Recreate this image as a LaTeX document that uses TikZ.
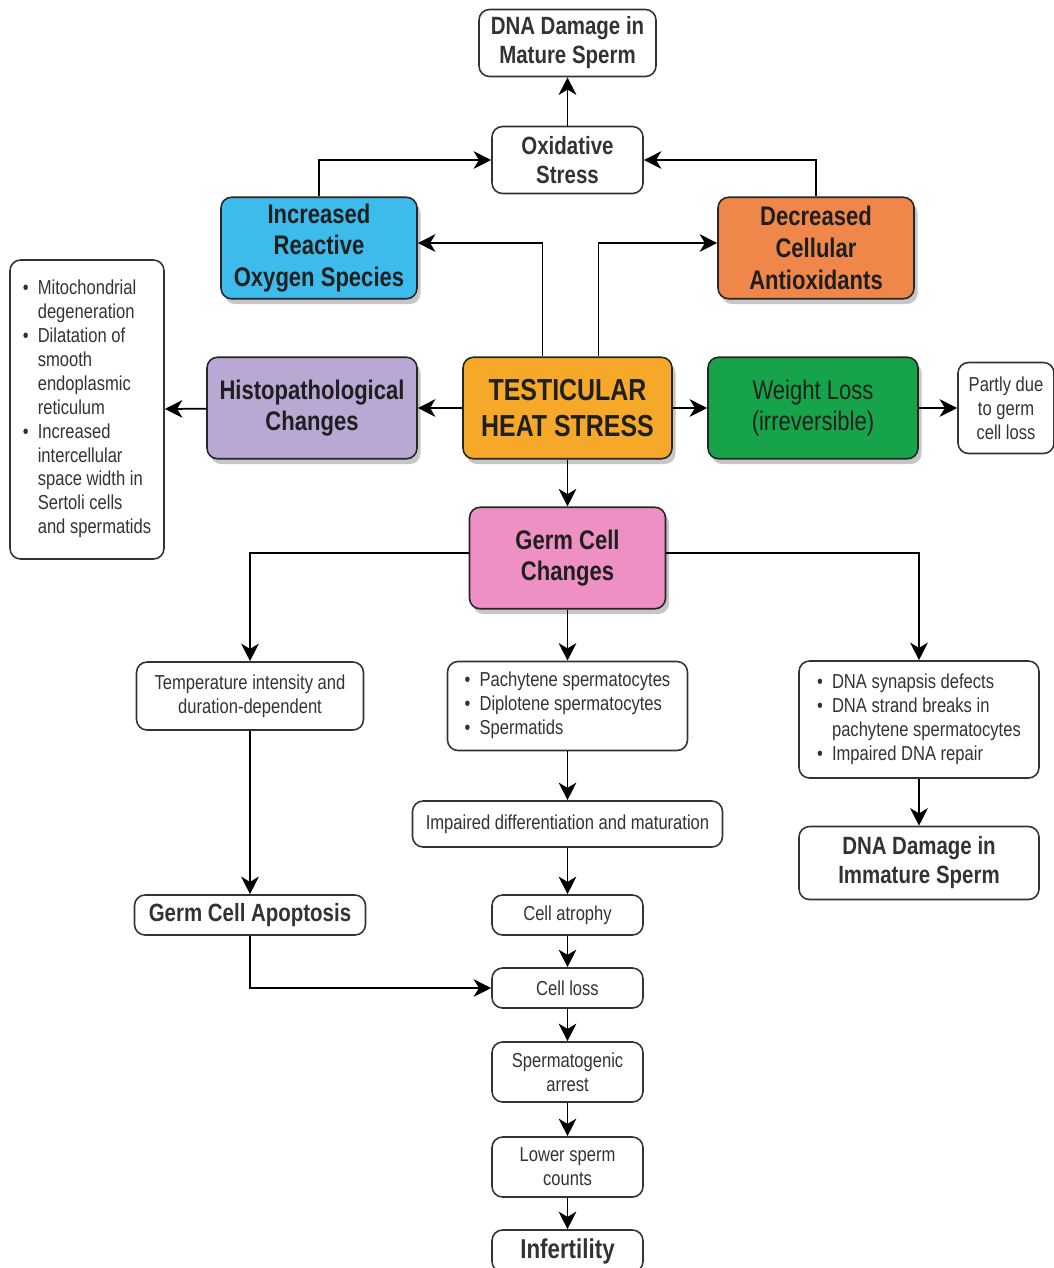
\documentclass[tikz,border=0pt]{standalone}
\usepackage{fontspec}
\setmainfont[FakeStretch=0.82]{Liberation Sans}
\usepackage{tikz}
\usetikzlibrary{shapes,arrows,positioning,arrows.meta,shadows}
\usepackage{xcolor}

\definecolor{rosblue}{HTML}{3DBBEA}
\definecolor{antired}{HTML}{F0874A}
\definecolor{histpurple}{HTML}{B9A8D3}
\definecolor{heatorange}{HTML}{F6A829}
\definecolor{wgreen}{HTML}{17A34A}
\definecolor{germpink}{HTML}{EF90C4}

\newcommand{\hdfont}{\fontsize{14.2}{16.5}\selectfont\bfseries}
\newcommand{\bigfont}{\fontsize{15.3}{18}\selectfont}
\newcommand{\txfont}{\fontsize{11.5}{13.6}\selectfont}

\begin{document}
\begin{tikzpicture}
    \tikzstyle{block} = [rectangle, draw=black!80, line width=0.9pt,
      rounded corners=6pt, fill=white, text=black!80, align=center,
      inner sep=0pt, font=\txfont]
    \tikzstyle{cblock} = [block, draw=black!85, text=black!88,
      font=\bigfont\bfseries, minimum width=3.92cm, minimum height=2.03cm,
      drop shadow={opacity=0.45, shadow xshift=2pt, shadow yshift=-3pt}]
    \tikzstyle{line} = [draw, line width=1pt,
      -{Stealth[length=10pt,width=10pt,inset=3pt]}]

    \useasboundingbox (0,0) rectangle (21.08,-25.36);

    % top part
    \node [block, font=\hdfont, minimum width=3.54cm, minimum height=1.34cm]
      (matdna) at (11.35,-0.86) {DNA Damage in\\Mature Sperm};
    \node [block, font=\hdfont, minimum width=3.02cm, minimum height=1.34cm]
      (oxid) at (11.35,-3.2) {Oxidative\\Stress};
    \node [cblock, fill=rosblue] (ros) at (6.38,-4.96)
      {Increased\\Reactive\\Oxygen Species};
    \node [cblock, fill=antired] (antiox) at (16.32,-4.96)
      {Decreased\\Cellular\\Antioxidants};

    % middle row
    \node [cblock, fill=heatorange, minimum width=4.18cm,
      font=\fontsize{17.3}{21}\selectfont\bfseries] (heat) at (11.35,-8.16)
      {TESTICULAR\\HEAT STRESS};
    \node [cblock, fill=histpurple, minimum width=4.2cm] (histo) at (6.24,-8.16)
      {Histopathological\\Changes};
    \node [cblock, fill=wgreen, minimum width=4.2cm, font=\bigfont] (weight)
      at (16.26,-8.16) {Weight Loss\\(irreversible)};
    \node [block, minimum width=1.92cm, minimum height=1.82cm] (partly)
      at (20.12,-8.16) {Partly due\\to germ\\cell loss};
    \node [block, minimum width=3.08cm, minimum height=5.98cm] (mito)
      at (1.74,-8.19) {%
      \begin{tabular}{@{}l@{\hspace{0.45em}}l@{}}
        \textbullet & Mitochondrial\\ & degeneration\\
        \textbullet & Dilatation of\\ & smooth\\ & endoplasmic\\ & reticulum\\
        \textbullet & Increased\\ & intercellular\\ & space width in\\
                    & Sertoli cells\\ & and spermatids
      \end{tabular}};

    \node [cblock, fill=germpink] (germ) at (11.35,-11.16)
      {Germ Cell\\Changes};

    % three branches
    \node [block, minimum width=4.54cm, minimum height=1.36cm] (temp)
      at (5.0,-13.92) {Temperature intensity and\\duration-dependent};
    \node [block, minimum width=4.8cm, minimum height=1.78cm] (pachy)
      at (11.35,-14.12) {%
      \begin{tabular}{@{}l@{\hspace{0.45em}}l@{}}
        \textbullet & Pachytene spermatocytes\\
        \textbullet & Diplotene spermatocytes\\
        \textbullet & Spermatids
      \end{tabular}};
    \node [block, minimum width=4.8cm, minimum height=2.34cm] (dnasyn)
      at (18.38,-14.39) {%
      \begin{tabular}{@{}l@{\hspace{0.45em}}l@{}}
        \textbullet & DNA synapsis defects\\
        \textbullet & DNA strand breaks in\\ & pachytene spermatocytes\\
        \textbullet & Impaired DNA repair
      \end{tabular}};
    \node [block, font=\hdfont, minimum width=4.8cm, minimum height=1.46cm]
      (immdna) at (18.38,-17.26) {DNA Damage in\\Immature Sperm};

    \node [block, minimum width=6.2cm, minimum height=0.92cm] (impair)
      at (11.35,-16.48) {Impaired differentiation and maturation};
    \node [block, font=\hdfont, minimum width=4.62cm, minimum height=0.8cm]
      (apopt) at (5.0,-18.3) {Germ Cell Apoptosis};
    \node [block, minimum width=3.02cm, minimum height=0.8cm] (atrophy)
      at (11.35,-18.3) {Cell atrophy};
    \node [block, minimum width=3.02cm, minimum height=0.8cm] (closs)
      at (11.35,-19.76) {Cell loss};
    \node [block, minimum width=3.02cm, minimum height=1.2cm] (arrest)
      at (11.35,-21.44) {Spermatogenic\\arrest};
    \node [block, minimum width=3.02cm, minimum height=1.2cm] (lower)
      at (11.35,-23.34) {Lower sperm\\counts};
    \node [block, font=\fontsize{15.5}{18}\selectfont\bfseries,
      minimum width=3.02cm, minimum height=0.84cm] (infert)
      at (11.35,-25.02) {Infertility};

    % connectors
    \path [line] (oxid) -- (matdna);
    \path [line] (ros.north) |- (oxid.west);
    \path [line] (antiox.north) |- (oxid.east);
    \path [line] ([xshift=-0.5cm]heat.north) |- ([yshift=0.1cm]ros.east);
    \path [line] ([xshift=0.62cm]heat.north) |- ([yshift=0.1cm]antiox.west);
    \path [line] (heat) -- (histo);
    \path [line] (histo) -- (mito);
    \path [line] (heat) -- (weight);
    \path [line] (weight) -- (partly);
    \path [line] (heat) -- (germ);
    \path [line] ([yshift=0.1cm]germ.west) -| (temp.north);
    \path [line] ([yshift=0.1cm]germ.east) -| (dnasyn.north);
    \path [line] (germ) -- (pachy);
    \path [line] (dnasyn) -- (immdna);
    \path [line] (temp) -- (apopt);
    \path [line] (pachy) -- (impair);
    \path [line] (impair) -- (atrophy);
    \path [line] (atrophy) -- (closs);
    \path [line] (apopt.south) |- (closs.west);
    \path [line] (closs) -- (arrest);
    \path [line] (arrest) -- (lower);
    \path [line] (lower) -- (infert);

  \end{tikzpicture}
\end{document}
